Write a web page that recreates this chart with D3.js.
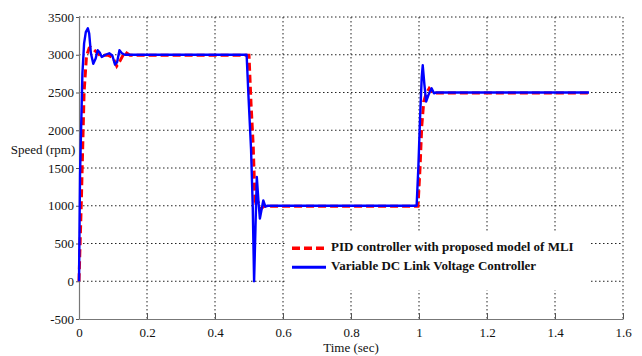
<!DOCTYPE html>
<html>
<head>
<meta charset="utf-8">
<script src="https://cdn.jsdelivr.net/npm/d3@7"></script>
<style>
  body { margin: 0; background: #fff; }
  svg text { font-family: 'Liberation Serif', 'Times New Roman', Times, serif !important; }
</style>
</head>
<body>
<div id="chart"></div>
<script>
// PID controller with proposed model of MLI (red dashed)
const pidTime  = [0, 0.007, 0.015, 0.022, 0.03, 0.034, 0.045, 0.062, 0.085, 0.1, 0.111, 0.122, 0.135, 0.15,
                  0.5, 0.506, 0.5125, 0.518, 0.525, 0.535, 0.545,
                  0.997, 1.003, 1.008, 1.014, 1.02, 1.03, 1.042, 1.05, 1.5];
const pidSpeed = [0, 1080, 2510, 2980, 3090, 3100, 3060, 2990, 2995, 2960, 2850, 2930, 3040, 2995,
                  2995, 2350, 1780, 1000, 1070, 960, 995,
                  995, 1500, 2050, 2380, 2470, 2555, 2490, 2495, 2495];

// Variable DC Link Voltage Controller (blue solid)
const dcTime  = [0, 0.003, 0.01, 0.015, 0.02, 0.026, 0.03, 0.035, 0.042, 0.049, 0.055, 0.061, 0.067, 0.078, 0.089,
                 0.098, 0.106, 0.112, 0.119, 0.126, 0.135,
                 0.493, 0.499, 0.506, 0.511, 0.515, 0.519, 0.523, 0.528, 0.532, 0.537, 0.542, 0.548, 0.555,
                 0.993, 0.998, 1.003, 1.008, 1.011, 1.016, 1.021, 1.028, 1.037, 1.044, 1.05, 1.5];
const dcSpeed = [0, 1400, 2750, 3150, 3300, 3350, 3280, 3020, 2880, 2950, 3060, 3030, 2970, 3000, 3020,
                 2990, 2870, 2900, 3060, 3020, 3000,
                 3000, 2400, 1750, 990, 0, 700, 1380, 1050, 830, 950, 1070, 990, 1000,
                 1000, 1500, 2150, 2700, 2860, 2600, 2380, 2470, 2555, 2490, 2500, 2500];

const xTicks = [0, 0.2, 0.4, 0.6, 0.8, 1, 1.2, 1.4, 1.6];
const yTicks = [-500, 0, 500, 1000, 1500, 2000, 2500, 3000, 3500];

const legendLabels = ['PID controller with proposed model of MLI', 'Variable DC Link Voltage Controller'];

const W = 642, H = 356;
const margin = { top: 17, right: 19, bottom: 37, left: 79 };
const width = W - margin.left - margin.right;
const height = H - margin.top - margin.bottom;
const serif = "'Liberation Serif', 'Times New Roman', Times, serif";

const svg = d3.select('#chart')
  .append('svg')
  .attr('width', W)
  .attr('height', H)
  .attr('font-family', serif);

const g = svg.append('g')
  .attr('transform', `translate(${margin.left},${margin.top})`);

const x = d3.scaleLinear().domain([0, 1.6]).range([0, width]);
const y = d3.scaleLinear().domain([-500, 3500]).range([height, 0]);

// grid
g.append('g')
  .selectAll('line')
  .data(xTicks.slice(1))
  .enter()
  .append('line')
  .attr('x1', d => x(d)).attr('x2', d => x(d))
  .attr('y1', 0).attr('y2', height)
  .attr('stroke', '#222')
  .attr('stroke-width', 1)
  .attr('stroke-dasharray', '1.5,2.5');

g.append('g')
  .selectAll('line')
  .data(yTicks.slice(1))
  .enter()
  .append('line')
  .attr('x1', 0).attr('x2', width)
  .attr('y1', d => y(d)).attr('y2', d => y(d))
  .attr('stroke', '#222')
  .attr('stroke-width', 1)
  .attr('stroke-dasharray', '1.5,2.5');

// axes
const xAxis = g.append('g')
  .attr('transform', `translate(0,${height})`)
  .call(d3.axisBottom(x).tickValues(xTicks).tickFormat(d3.format('~g')).tickSizeInner(-6).tickSizeOuter(0).tickPadding(9));

const yAxis = g.append('g')
  .call(d3.axisLeft(y).tickValues(yTicks).tickFormat(d => d).tickSizeInner(3).tickSizeOuter(0).tickPadding(2));

[xAxis, yAxis].forEach(a => {
  a.attr('font-family', serif).attr('font-size', 13);
  a.select('.domain').attr('stroke', '#777').attr('stroke-width', 1.2);
  a.selectAll('.tick line').attr('stroke', '#555');
  a.selectAll('.tick text').attr('fill', '#111');
});

// series
const line = d3.line()
  .x(d => x(d[0]))
  .y(d => y(d[1]));

g.append('path')
  .datum(d3.zip(pidTime, pidSpeed))
  .attr('d', line)
  .attr('fill', 'none')
  .attr('stroke', '#ff0000')
  .attr('stroke-width', 3)
  .attr('stroke-dasharray', '8,4');

g.append('path')
  .datum(d3.zip(dcTime, dcSpeed))
  .attr('d', line)
  .attr('fill', 'none')
  .attr('stroke', '#0000ff')
  .attr('stroke-width', 2.4)
  .attr('stroke-linejoin', 'round');

// axis labels
svg.append('text')
  .attr('x', 43)
  .attr('y', 151)
  .attr('text-anchor', 'middle')
  .attr('dominant-baseline', 'middle')
  .attr('font-size', 13)
  .attr('fill', '#111')
  .text('Speed (rpm)');

svg.append('text')
  .attr('x', margin.left + x(0.8))
  .attr('y', 352)
  .attr('text-anchor', 'middle')
  .attr('font-size', 13)
  .attr('fill', '#111')
  .text('Time (sec)');

// legend
const legend = g.append('g')
  .attr('transform', `translate(${x(0.6) + 2},${y(650)})`);

legend.append('rect')
  .attr('x', 0).attr('y', 0)
  .attr('width', 305).attr('height', 58)
  .attr('fill', '#fff');

const legendStyles = [
  { color: '#ff0000', width: 3.5, dash: '8,4' },
  { color: '#0000ff', width: 3, dash: null }
];

legendLabels.forEach((label, i) => {
  const ly = 16 + i * 19;
  legend.append('line')
    .attr('x1', 7).attr('x2', 41)
    .attr('y1', ly).attr('y2', ly)
    .attr('stroke', legendStyles[i].color)
    .attr('stroke-width', legendStyles[i].width)
    .attr('stroke-dasharray', legendStyles[i].dash);
  legend.append('text')
    .attr('x', 46)
    .attr('y', ly)
    .attr('dominant-baseline', 'middle')
    .attr('font-size', 13)
    .attr('font-weight', 'bold')
    .attr('fill', '#111')
    .text(label);
});
</script>
</body>
</html>
